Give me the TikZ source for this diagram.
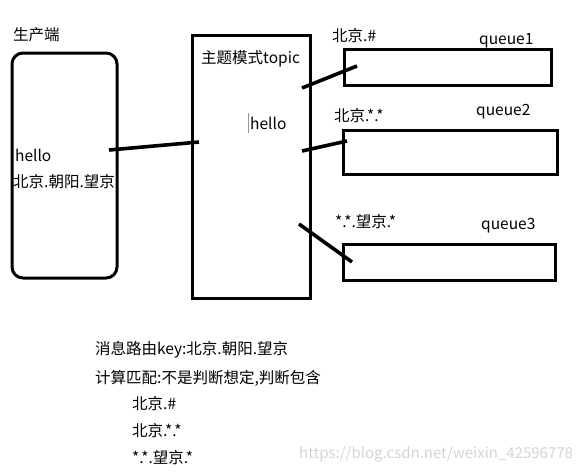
\documentclass[tikz,border=0pt]{standalone}
\usepackage{fontspec}
\setmainfont{Noto Sans CJK SC}
\begin{document}
\begin{tikzpicture}[x=1pt,y=-1pt,
  box/.style={draw=black,line width=3pt},
  link/.style={draw=black,line width=3.6pt},
  lbl/.style={anchor=west,inner sep=0pt,font=\fontsize{15.5}{17}\selectfont},
  wmark/.style={text=black!17,anchor=west,inner sep=0pt,font=\fontsize{15}{17}\selectfont}]
\useasboundingbox (0,0) rectangle (580,472);
% shapes
\draw[box,rounded corners=11pt] (12,53) rectangle (117,278);
\draw[box] (192,35) rectangle (310,298);
\draw[box] (344,49) rectangle (551,85);
\draw[box] (343,130) rectangle (557,174);
\draw[box] (343,244) rectangle (555,280);
% labels
\node[lbl] (prod) at (13,35) {生产端};
\node[lbl] (h1) at (15,155) {hello};
\node[lbl] (k1) at (13,182) {北京.朝阳.望京};
\node[lbl] (topic) at (201,59) {主题模式topic};
\node[lbl] (h2) at (250,123) {hello};
\draw[black!40,line width=0.8pt] (248,113) -- (248,133);
\node[lbl] (r1) at (332,36) {北京.\#};
\node[lbl] (q1) at (479,41) {queue1};
\node[lbl] (r2) at (334,116) {北京.*.*};
\node[lbl] (q2) at (476,112) {queue2};
\node[lbl] (r3) at (335,222) {*.*.望京.*};
\node[lbl] (q3) at (481,226) {queue3};
\node[lbl] (t1) at (95,350) {消息路由key:北京.朝阳.望京};
\node[lbl] (t2) at (95,378) {计算匹配:不是判断想定,判断包含};
\node[lbl] (t3) at (132,404) {北京.\#};
\node[lbl] (t4) at (132,431) {北京.*.*};
\node[lbl] (t5) at (132,458) {*.*.望京.*};
\node[wmark] (wm) at (299,454) {https://blog.csdn.net/weixin\_42596778};
% connectors
\coordinate (a0) at (109,150);
\coordinate (a1) at (199,142);
\coordinate (b0) at (302,88);
\coordinate (b1) at (357,66);
\coordinate (c0) at (302,151);
\coordinate (c1) at (347,141);
\coordinate (d0) at (299,224);
\coordinate (d1) at (352,262);
\draw[link] (a0) -- (a1);
\draw[link] (b0) -- (b1);
\draw[link] (c0) -- (c1);
\draw[link] (d0) -- (d1);
\end{tikzpicture}
\end{document}
